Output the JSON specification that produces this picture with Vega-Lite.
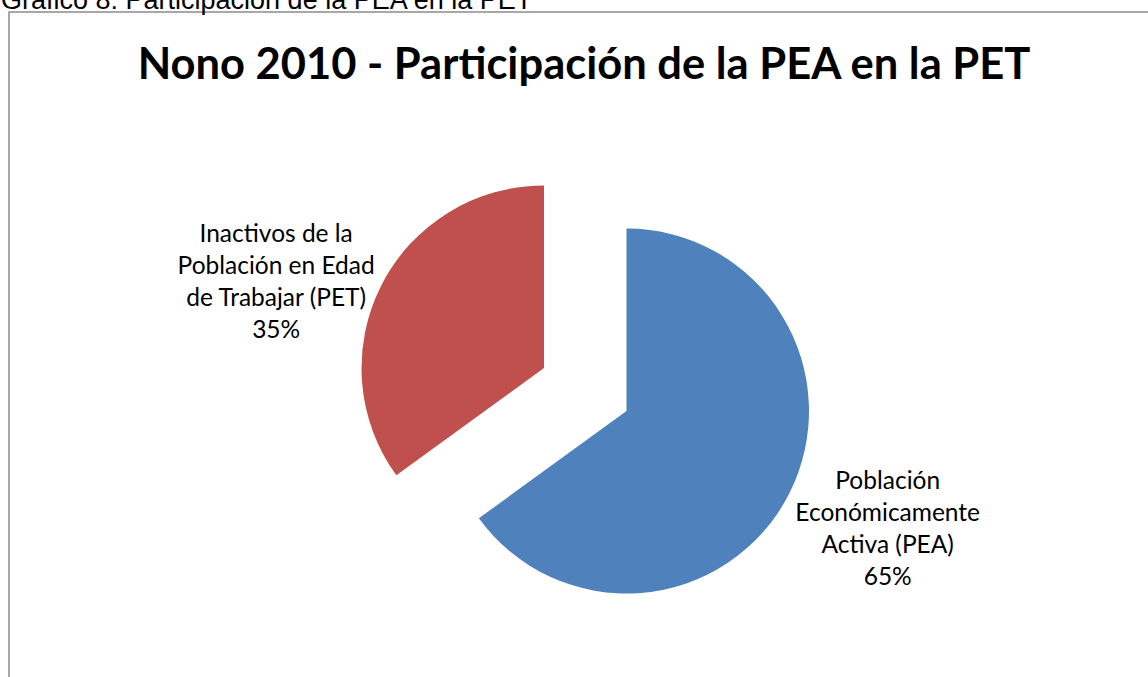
{
  "$schema": "https://vega.github.io/schema/vega-lite/v6.json",
  "width": 1150,
  "height": 680,
  "autosize": {"type": "none"},
  "padding": {"left": 9, "top": 12, "right": 0, "bottom": 0},
  "background": "white",
  "view": {"stroke": "#8c8c8c", "strokeWidth": 1.5},
  "config": {"view": {"stroke": "#8c8c8c", "strokeWidth": 1.5}},
  "title": {
    "text": "Nono 2010 - Participación de la PEA en la PET",
    "font": "Lato",
    "fontSize": 43.5,
    "fontWeight": "bold",
    "color": "#000000",
    "anchor": "middle",
    "frame": "group",
    "baseline": "alphabetic",
    "offset": -135
  },
  "data": {
    "values": [
      {"category": "Población Económicamente Activa (PEA)", "value": 65, "label": "Población\nEconómicamente\nActiva (PEA)\n65%"},
      {"category": "Inactivos de la Población en Edad de Trabajar (PET)", "value": 35, "label": "Inactivos de la\nPoblación en Edad\nde Trabajar (PET)\n35%"}
    ]
  },
  "layer": [
    {
      "mark": {"type": "arc", "outerRadius": 182.5, "x": 617.5, "y": 399},
      "encoding": {
        "theta": {"field": "value", "type": "quantitative", "stack": true},
        "order": {"field": "value", "sort": "descending"},
        "color": {"field": "category", "type": "nominal", "legend": null,
          "scale": {"domain": ["Población Económicamente Activa (PEA)", "Inactivos de la Población en Edad de Trabajar (PET)"], "range": ["#4F81BD", "#C0504D"]}},
        "opacity": {"condition": {"test": "datum.category === 'Población Económicamente Activa (PEA)'", "value": 1}, "value": 0}
      }
    },
    {
      "mark": {"type": "arc", "outerRadius": 182.5, "x": 535, "y": 356},
      "encoding": {
        "theta": {"field": "value", "type": "quantitative", "stack": true},
        "order": {"field": "value", "sort": "descending"},
        "color": {"field": "category", "type": "nominal", "legend": null},
        "opacity": {"condition": {"test": "datum.category === 'Inactivos de la Población en Edad de Trabajar (PET)'", "value": 1}, "value": 0}
      }
    },
    {
      "mark": {"type": "text", "x": 617.5, "y": 399, "radius": 287, "thetaOffset": -0.044, "dy": -48, "font": "Lato", "fontSize": 24.5, "lineHeight": 32, "align": "center", "baseline": "middle", "lineBreak": "\n", "color": "#000000"},
      "encoding": {
        "theta": {"field": "value", "type": "quantitative", "stack": true},
        "order": {"field": "value", "sort": "descending"},
        "text": {"field": "label", "type": "nominal"},
        "opacity": {"condition": {"test": "datum.category === 'Población Económicamente Activa (PEA)'", "value": 1}, "value": 0}
      }
    },
    {
      "mark": {"type": "text", "x": 535, "y": 356, "radius": 281, "thetaOffset": -0.164, "dy": -48, "font": "Lato", "fontSize": 24.5, "lineHeight": 32, "align": "center", "baseline": "middle", "lineBreak": "\n", "color": "#000000"},
      "encoding": {
        "theta": {"field": "value", "type": "quantitative", "stack": true},
        "order": {"field": "value", "sort": "descending"},
        "text": {"field": "label", "type": "nominal"},
        "opacity": {"condition": {"test": "datum.category === 'Inactivos de la Población en Edad de Trabajar (PET)'", "value": 1}, "value": 0}
      }
    },
    {
      "data": {"values": [{"caption": "Gráfico 8: Participación de la PEA en la PET"}]},
      "mark": {"type": "text", "x": -8, "y": -3, "align": "left", "baseline": "alphabetic", "font": "Liberation Sans", "fontSize": 27, "color": "#000000"},
      "encoding": {"text": {"field": "caption", "type": "nominal"}}
    }
  ]
}
